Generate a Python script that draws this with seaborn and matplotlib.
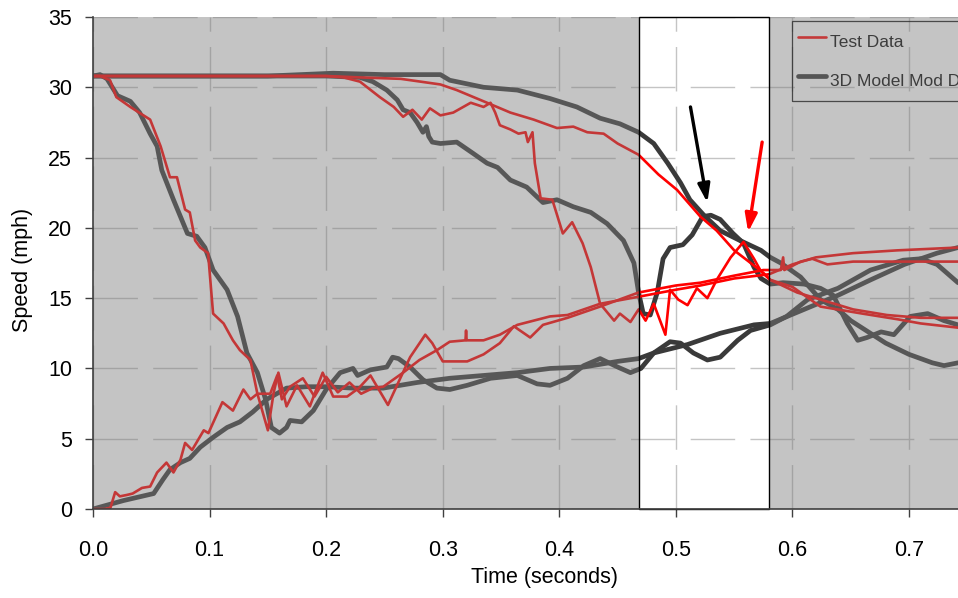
import numpy as np
import pandas as pd
import matplotlib
matplotlib.use("Agg")
import matplotlib.pyplot as plt
from matplotlib.patches import Rectangle
from matplotlib.lines import Line2D
import seaborn as sns

# ---- measured test runs (time in s, speed in mph) ----
test_a_t = [0.0, 0.006, 0.0146, 0.020, 0.032, 0.049, 0.058, 0.066, 0.072, 0.079, 0.083, 0.0876, 0.092,
            0.0987, 0.103, 0.112, 0.120, 0.126, 0.135, 0.141, 0.150, 0.155, 0.159, 0.166, 0.175, 0.186,
            0.197, 0.206, 0.218, 0.228, 0.238, 0.253, 0.263, 0.272, 0.285, 0.291, 0.300, 0.321, 0.335,
            0.349, 0.361, 0.375, 0.386, 0.407, 0.435, 0.468, 0.500, 0.521, 0.550, 0.575, 0.590, 0.592,
            0.593, 0.607, 0.617, 0.630, 0.652, 0.690, 0.742]
test_a_v = [30.8, 30.8, 30.5, 29.3, 28.6, 27.7, 25.8, 23.6, 23.6, 21.3, 21.1, 19.1, 18.6,
            18.2, 13.9, 13.2, 12.0, 11.3, 10.6, 8.2, 5.6, 8.3, 9.7, 7.3, 8.8, 7.3,
            9.7, 8.0, 8.0, 8.6, 9.5, 7.4, 9.2, 10.8, 12.4, 11.8, 10.5, 10.5, 11.0,
            11.8, 13.0, 12.2, 13.1, 13.6, 14.4, 15.4, 15.9, 16.1, 16.6, 17.0, 17.0, 17.9,
            17.0, 17.6, 17.8, 17.4, 17.6, 17.6, 17.6]

test_b_t = [0.0, 0.010, 0.015, 0.019, 0.023, 0.029, 0.034, 0.042, 0.049, 0.055, 0.063, 0.069, 0.075,
            0.079, 0.085, 0.095, 0.099, 0.111, 0.120, 0.129, 0.135, 0.141, 0.152, 0.158, 0.162, 0.169,
            0.180, 0.190, 0.200, 0.210, 0.220, 0.230, 0.240, 0.249, 0.266, 0.280, 0.295, 0.306, 0.3195,
            0.320, 0.3205, 0.335, 0.349, 0.364, 0.378, 0.392, 0.407, 0.421, 0.435, 0.468, 0.500, 0.521,
            0.550, 0.580, 0.600, 0.620, 0.652, 0.690, 0.742]
test_b_v = [0.0, 0.0, 0.1, 1.2, 0.9, 1.0, 1.1, 1.5, 1.6, 2.6, 3.3, 2.6, 3.5,
            4.7, 4.2, 5.6, 5.4, 7.6, 7.0, 8.5, 7.8, 8.2, 8.2, 9.5, 7.8, 8.7,
            9.3, 8.0, 9.4, 8.3, 9.0, 8.2, 8.6, 8.7, 9.7, 10.6, 11.3, 11.9, 12.0,
            12.7, 12.0, 12.0, 12.4, 13.1, 13.4, 13.7, 13.8, 14.2, 14.6, 15.1, 15.6, 15.9,
            16.4, 16.7, 17.4, 17.9, 18.2, 18.4, 18.6]

test_c_t = [0.0, 0.200, 0.229, 0.264, 0.298, 0.312, 0.338, 0.358, 0.378, 0.398, 0.412, 0.424, 0.438,
            0.450, 0.468, 0.485, 0.501, 0.521, 0.535, 0.550, 0.561, 0.575, 0.581, 0.604, 0.624, 0.652,
            0.681, 0.710, 0.742]
test_c_v = [30.8, 30.8, 30.7, 30.6, 30.2, 29.8, 28.9, 28.2, 27.7, 27.1, 27.2, 26.8, 26.7,
            26.0, 25.2, 23.8, 22.7, 20.8, 19.8, 18.4, 17.7, 16.8, 16.3, 15.4, 14.9, 14.2,
            13.8, 13.6, 13.6]

test_d_t = [0.0, 0.200, 0.215, 0.229, 0.246, 0.258, 0.266, 0.274, 0.282, 0.289, 0.298, 0.309, 0.324,
            0.335, 0.341, 0.345, 0.349, 0.358, 0.365, 0.371, 0.373, 0.377, 0.379, 0.384, 0.394, 0.403,
            0.411, 0.420, 0.427, 0.435, 0.442, 0.447, 0.452, 0.461, 0.468, 0.474, 0.481, 0.491, 0.495,
            0.502, 0.510, 0.518, 0.527, 0.535, 0.547, 0.558, 0.567, 0.573, 0.581, 0.600, 0.624, 0.660,
            0.690, 0.710, 0.742]
test_d_v = [30.8, 30.8, 30.7, 30.4, 29.3, 28.6, 27.9, 28.4, 27.7, 28.5, 28.0, 28.2, 28.9,
            28.6, 28.9, 28.2, 27.3, 27.0, 26.7, 26.8, 26.1, 26.8, 24.6, 22.1, 22.0, 19.6,
            20.4, 18.9, 17.2, 14.6, 13.9, 13.4, 13.9, 13.3, 14.2, 13.4, 14.6, 12.4, 15.6,
            14.9, 14.5, 15.7, 15.0, 16.3, 17.9, 19.0, 17.8, 16.9, 16.3, 15.8, 14.4, 13.9,
            13.5, 13.2, 12.9]

# ---- 3D model runs ----
model_a_t = [0.0, 0.006, 0.012, 0.021, 0.032, 0.040, 0.049, 0.055, 0.059, 0.069, 0.081, 0.089, 0.096,
             0.103, 0.115, 0.124, 0.132, 0.141, 0.148, 0.153, 0.160, 0.166, 0.169, 0.179, 0.189, 0.200,
             0.212, 0.223, 0.227, 0.238, 0.252, 0.257, 0.262, 0.272, 0.283, 0.295, 0.306, 0.321, 0.341,
             0.364, 0.381, 0.392, 0.407, 0.421, 0.435, 0.450, 0.461, 0.470, 0.481, 0.495, 0.504, 0.515,
             0.527, 0.538, 0.553, 0.564, 0.581, 0.595, 0.613, 0.639, 0.667, 0.695, 0.710, 0.724, 0.742]
model_a_v = [30.8, 30.9, 30.6, 29.4, 29.0, 28.2, 26.7, 25.8, 24.1, 22.0, 19.6, 19.4, 18.6,
             17.0, 15.6, 13.7, 11.1, 9.7, 7.8, 5.8, 5.4, 5.8, 6.3, 6.2, 7.0, 8.5,
             9.7, 10.0, 9.5, 9.9, 10.1, 10.8, 10.7, 10.1, 9.2, 8.6, 8.5, 8.8, 9.3,
             9.5, 8.9, 8.8, 9.3, 10.2, 10.7, 10.1, 9.7, 10.0, 11.1, 11.9, 11.8, 11.1,
             10.6, 10.8, 12.0, 12.7, 13.1, 13.7, 14.9, 15.7, 17.0, 17.7, 17.8, 17.4, 16.1]

model_b_t = [0.0, 0.026, 0.052, 0.060, 0.066, 0.075, 0.083, 0.092, 0.103, 0.115, 0.126, 0.137, 0.149,
             0.166, 0.183, 0.200, 0.223, 0.249, 0.278, 0.306, 0.335, 0.364, 0.392, 0.421, 0.450, 0.468,
             0.481, 0.510, 0.538, 0.567, 0.581, 0.610, 0.639, 0.667, 0.696, 0.724, 0.742]
model_b_v = [0.0, 0.6, 1.1, 2.1, 2.8, 3.3, 3.6, 4.4, 5.1, 5.8, 6.2, 6.9, 7.8,
             8.6, 8.7, 8.7, 8.6, 8.6, 9.0, 9.3, 9.5, 9.7, 10.0, 10.1, 10.5, 10.7,
             11.1, 11.7, 12.5, 13.1, 13.2, 14.2, 15.2, 16.3, 17.4, 18.2, 18.6]

model_c_t = [0.0, 0.150, 0.206, 0.250, 0.298, 0.306, 0.335, 0.364, 0.392, 0.415, 0.435, 0.452, 0.468,
             0.481, 0.493, 0.504, 0.512, 0.524, 0.538, 0.555, 0.573, 0.581, 0.590, 0.607, 0.624, 0.639,
             0.650, 0.680, 0.700, 0.720, 0.730, 0.742]
model_c_v = [30.8, 30.8, 31.0, 30.9, 30.9, 30.5, 30.0, 29.8, 29.2, 28.6, 27.8, 27.4, 26.8,
             26.0, 24.6, 23.2, 22.0, 20.9, 19.8, 19.1, 18.4, 17.9, 17.5, 16.5, 14.9, 14.2,
             13.4, 11.8, 11.0, 10.4, 10.2, 10.4]

model_d_t = [0.0, 0.200, 0.229, 0.240, 0.252, 0.261, 0.266, 0.272, 0.278, 0.283, 0.286, 0.288, 0.291,
             0.298, 0.312, 0.326, 0.338, 0.347, 0.358, 0.372, 0.386, 0.398, 0.412, 0.427, 0.441, 0.455,
             0.464, 0.468, 0.472, 0.478, 0.484, 0.489, 0.495, 0.506, 0.514, 0.523, 0.530, 0.538, 0.549,
             0.558, 0.567, 0.573, 0.581, 0.592, 0.610, 0.624, 0.635, 0.647, 0.656, 0.664, 0.676, 0.687,
             0.701, 0.716, 0.730, 0.742]
model_d_v = [30.8, 30.8, 30.7, 30.4, 29.8, 29.1, 28.4, 28.2, 27.5, 26.8, 27.2, 26.5, 26.1,
             26.0, 26.1, 25.3, 24.6, 24.3, 23.4, 22.9, 21.8, 22.0, 21.5, 21.1, 20.3, 19.1,
             17.5, 15.4, 13.9, 13.8, 15.4, 17.8, 18.6, 18.8, 19.5, 20.8, 20.9, 20.6, 19.6,
             18.9, 17.2, 16.4, 16.0, 16.1, 16.0, 15.7, 15.2, 13.2, 12.0, 12.2, 12.6, 12.4,
             13.7, 13.9, 13.4, 13.1]

# highlighted time window and the two callout arrows (start -> tip)
window = (0.468, 0.580)
arrow_model = ((0.5125, 28.6), (0.527, 21.8))
arrow_test = ((0.574, 26.1), (0.562, 19.7))

x_ticks = [0.0, 0.1, 0.2, 0.3, 0.4, 0.5, 0.6, 0.7]
y_ticks = [0, 5, 10, 15, 20, 25, 30, 35]
x_max = 0.742


def frame(kind, runs):
    parts = []
    for name, (t, v) in runs.items():
        parts.append(pd.DataFrame({"time": t, "speed": v, "run": name, "kind": kind}))
    return pd.concat(parts, ignore_index=True)


test_df = frame("Test Data", {"A": (test_a_t, test_a_v), "B": (test_b_t, test_b_v),
                              "C": (test_c_t, test_c_v), "D": (test_d_t, test_d_v)})
model_df = frame("3D Model Mod Data", {"A": (model_a_t, model_a_v), "B": (model_b_t, model_b_v),
                                       "C": (model_c_t, model_c_v), "D": (model_d_t, model_d_v)})

sns.set_theme(style="white")
plt.rcParams["font.family"] = ["Liberation Sans", "DejaVu Sans"]
plt.rcParams["lines.scale_dashes"] = False
plt.rcParams["lines.solid_joinstyle"] = "round"
plt.rcParams["lines.solid_capstyle"] = "round"

fig = plt.figure(figsize=(9.58, 5.98), dpi=100)
ax = fig.add_axes([0.0971, 0.1488, 0.9029, 0.8228])
ax.set_facecolor("white")

ax.set_xlim(0, x_max)
ax.set_ylim(0, 35)
ax.set_xticks(x_ticks)
ax.set_xticklabels([f"{v:.1f}" for v in x_ticks])
ax.set_yticks(y_ticks)

ax.set_axisbelow(True)
ax.grid(True, color="#c4c4c4", lw=1.0, linestyle=(0, (32, 11)))

sns.lineplot(data=model_df, x="time", y="speed", units="run", estimator=None, sort=False,
             color="#3a3a3a", lw=3.4, legend=False, ax=ax, zorder=2)
sns.lineplot(data=test_df, x="time", y="speed", units="run", estimator=None, sort=False,
             color="#ff0000", lw=1.9, legend=False, ax=ax, zorder=2.5)

# grey shading outside the highlighted window
shade = dict(facecolor="#7c7c7c", alpha=0.45, edgecolor="none", zorder=3)
ax.add_patch(Rectangle((0, 0), window[0], 35, **shade))
ax.add_patch(Rectangle((window[1], 0), x_max - window[1] + 0.01, 35, **shade))
ax.add_patch(Rectangle((window[0], 0), window[1] - window[0], 35, fill=False,
                       edgecolor="black", lw=1.0, zorder=4, clip_on=False))

for (start, tip), col in ((arrow_model, "black"), (arrow_test, "#ff0000")):
    ax.annotate("", xy=tip, xytext=start, zorder=5,
                arrowprops=dict(arrowstyle="-|>,head_length=0.9,head_width=0.3",
                                color=col, lw=2.4, shrinkA=0, shrinkB=0))

for side in ("top", "right"):
    ax.spines[side].set_visible(False)
for side in ("left", "bottom"):
    ax.spines[side].set_color("#404040")
    ax.spines[side].set_linewidth(1.2)
    ax.spines[side].set_zorder(6)

ax.tick_params(axis="both", direction="out", length=6, width=1, color="#404040",
               labelsize=15.5, labelcolor="black")
ax.tick_params(axis="y", pad=9)
ax.tick_params(axis="x", pad=16)
ax.tick_params(left=True, bottom=True)

ax.set_xlabel("Time (seconds)", fontsize=15.5, color="black")
ax.set_ylabel("Speed (mph)", fontsize=15.5, color="black")
ax.xaxis.set_label_coords(0.5225, -0.118)
ax.yaxis.set_label_coords(-0.069, 0.486)

handles = [Line2D([], [], color="#c43a3a", lw=1.9),
           Line2D([], [], color="#555555", lw=3.4)]
leg = fig.legend(handles, ["Test Data", "3D Model Mod Data"], loc="upper left",
                 bbox_to_anchor=(792 / 958, 1 - 21 / 598), bbox_transform=fig.transFigure,
                 borderaxespad=0, fontsize=12.5, frameon=True, fancybox=False,
                 handlelength=1.6, handletextpad=0.25, handleheight=2.2, labelspacing=0.58,
                 borderpad=0.35)
leg.get_frame().set_facecolor("none")
leg.get_frame().set_edgecolor("#2a2a2a")
leg.get_frame().set_linewidth(0.9)
for txt in leg.get_texts():
    txt.set_color("#3c3c3c")

fig.savefig("out.png", dpi=100)
